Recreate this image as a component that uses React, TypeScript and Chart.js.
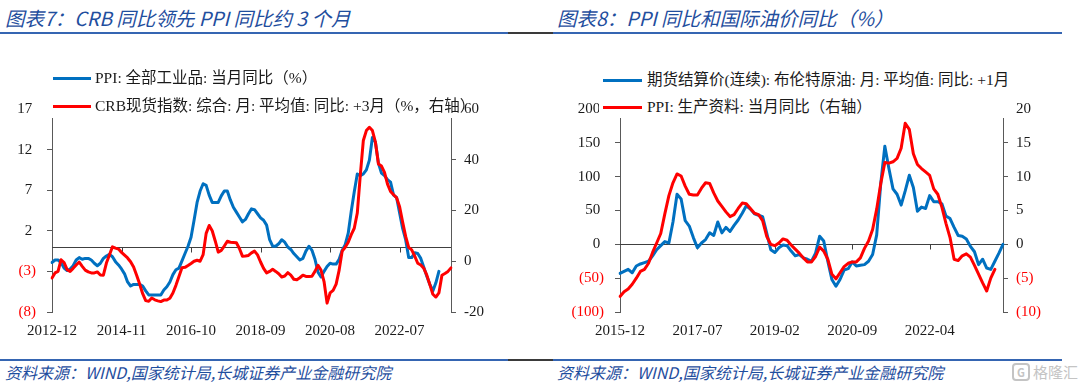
import React, { useEffect, useRef } from "react";
import { Chart, registerables } from "chart.js";

Chart.register(...registerables);

function monthLabels(start: string, count: number): string[] {
  const [y0, m0] = start.split("-").map(Number);
  const out: string[] = [];
  for (let k = 0; k < count; k++) {
    const t = m0 - 1 + k;
    const y = y0 + Math.floor(t / 12);
    const m = (t % 12) + 1;
    out.push(`${y}-${String(m).padStart(2, "0")}`);
  }
  return out;
}

// ---------- Left panel (图表7) ----------
const LEFT_MONTHS = monthLabels("2012-12", 133);
const LEFT_X_TICK_LABELS = ["2012-12", "2014-11", "2016-10", "2018-09", "2020-08", "2022-07"];
const PPI_ALL = [
  -1.9,
  -1.6, -1.6, -1.9, -2.6, -2.9, -2.7, -2.3, -1.6, -1.3, -1.5, -1.4, -1.4,
  -1.6, -2.0, -2.3, -2.0, -1.4, -1.1, -0.9, -1.2, -1.8, -2.2, -2.7, -3.3,
  -4.3, -4.8, -4.6, -4.6, -4.6, -4.8, -5.4, -5.9, -5.9, -5.9, -5.9, -5.9,
  -5.3, -4.9, -4.3, -3.4, -2.8, -2.6, -1.7, -0.8, 0.1, 1.2, 3.3, 5.5,
  6.9, 7.8, 7.6, 6.4, 5.5, 5.5, 5.5, 6.3, 6.9, 6.9, 5.8, 4.9,
  4.3, 3.7, 3.1, 3.4, 4.1, 4.7, 4.6, 4.1, 3.6, 3.3, 2.7, 0.9,
  0.1, 0.1, 0.4, 0.9, 0.6, 0.0, -0.3, -0.8, -1.2, -1.6, -1.4, -0.5,
  0.1, -0.4, -1.5, -3.1, -3.7, -3.0, -2.4, -2.0, -2.1, -2.1, -1.5, -0.4,
  0.3, 1.7, 4.4, 6.8, 9.0, 8.8, 9.0, 9.5, 10.7, 13.5, 12.9, 10.3,
  9.1, 8.8, 8.3, 8.0, 6.4, 6.1, 4.2, 2.3, 0.9, -1.3, -1.3, -0.7,
  -0.8, -1.4, -2.5, -3.6, -4.6, -5.4, -4.4, -3.0,
];
const CRB_YOY_LEAD3 = [
  -6.6, -4.6, -4.0, 0.6, -0.5, -3.3, -4.0, -2.8, -1.5, -0.3,
  -2.0, -3.5, -4.2, -4.6, -4.6, -4.2, -5.4, -5.5, -0.7, 2.5,
  5.7, 5.2, 4.8, 3.5, 2.4, 1.3, -0.2, -2.3, -5.5, -9.0,
  -12.8, -15.5, -15.8, -14.5, -15.2, -15.6, -15.9, -15.3, -15.3, -14.6,
  -12.5, -9.5, -6.0, -2.6, -2.4, -1.7, -0.9, 0.0, 0.4, 0.0,
  2.6, 11.0, 14.1, 12.0, 8.0, 3.6, 4.3, 6.0, 7.9, 7.5,
  7.4, 7.3, 5.0, 2.0, 2.1, 2.3, 3.3, 4.0, 2.5, -0.3,
  -2.8, -4.6, -4.0, -3.2, -4.0, -4.9, -6.2, -5.8, -4.5, -5.5,
  -7.1, -7.3, -6.5, -5.5, -6.0, -6.0, -5.9, -4.0, -1.6, -3.5,
  -8.0, -16.5, -12.5, -11.5, -9.0, -3.5, 4.0, 5.5, 7.5, 10.5,
  13.0, 19.0, 34.0, 47.6, 51.5, 52.8, 51.5, 46.9, 38.3, 37.5,
  35.0, 30.4, 27.5, 26.2, 25.0, 21.5, 15.5, 9.8, 5.5, 4.5,
  2.0, -0.8, -1.5, -2.8, -5.5, -9.2, -13.0, -14.1, -12.5, -5.5,
  -4.8, -4.0, -2.6,
];
const LEFT_Y_TICKS = [-8, -3, 2, 7, 12, 17];
const LEFT_Y1_TICKS = [-20, 0, 20, 40, 60];

// ---------- Right panel (图表8) ----------
const RIGHT_MONTHS = monthLabels("2015-12", 95);
const RIGHT_X_TICK_LABELS = ["2015-12", "2017-07", "2019-02", "2020-09", "2022-04"];
const BRENT_YOY_LEAD1 = [
  -43, -40, -37, -42, -32, -29, -27, -25, -17, -8,
  -2, 4, 2, 33, 74, 67, 35, 27, 10, -5,
  2, 7, 17, 13, 33, 17, 25, 19, 28, 36,
  46, 57, 52, 45, 43, 41, 17, -8, -12, -5,
  -1, -2, -10, -17, -15, -20, -22, -25, -13, 12,
  5, -25, -52, -62, -52, -38, -36, -26, -32, -31,
  -30, -25, -15, 14, 90, 145, 112, 82, 74, 58,
  79, 102, 84, 49, 55, 53, 72, 63, 63, 60,
  42, 38, 25, 13, 12, 8, -3, -11, -30, -22,
  -35, -37, -25, -13, 0,
];
const PPI_PRODUCER = [
  -7.7, -7.0, -6.6, -5.9, -5.0, -4.0, -3.7, -2.8, -1.2, 0.2,
  1.6, 4.5, 7.2, 9.1, 10.4, 10.1, 8.6, 7.4, 7.3, 7.3,
  8.3, 9.1, 9.0, 7.6, 6.4, 5.6, 4.8, 4.1, 4.4, 5.3,
  6.1, 6.0, 5.3, 4.6, 4.4, 3.5, 1.2, 0.0, -0.2, 0.2,
  0.8, 0.6, -0.1, -0.7, -1.3, -2.0, -2.6, -2.6, -1.8, -0.4,
  -1.0, -2.2, -4.4, -5.1, -4.2, -3.3, -2.8, -2.6, -2.6, -2.0,
  -0.6, 0.5, 2.2, 5.2, 9.0, 12.1, 12.0, 12.2, 12.7, 14.2,
  17.9, 17.0, 13.4, 11.8, 11.2, 10.7, 10.2, 8.2, 7.4, 5.5,
  3.1, 1.0, -2.2, -2.4, -1.7, -1.4, -1.9, -3.1, -4.4, -5.7,
  -6.9, -5.0, -3.7,
];
const RIGHT_Y_TICKS = [-100, -50, 0, 50, 100, 150, 200];
const RIGHT_Y1_TICKS = [-10, -5, 0, 5, 10, 15, 20];

const BLUE = "#0070C0";
const RED = "#FF0000";
const TITLE_BLUE = "#1F4E9E";
const RULE_BLUE = "#3565B2";
const AXIS_GREY = "#595959";
const TEXT_DARK = "#1a1a1a";
const SERIF = '"Liberation Serif", "Times New Roman", "Noto Sans CJK SC", serif';
const CJK_SANS = '"Noto Sans CJK SC", "Noto Sans", sans-serif';

type Fmt = (v: number) => string;
const parenLeft: Fmt = (v) => (v < 0 ? `(${Math.abs(v)})` : `${v} `);
const parenRight: Fmt = (v) => (v < 0 ? `(${Math.abs(v)})` : `${v}`);
const plain: Fmt = (v) => `${v}`;

interface PanelProps {
  left: number;
  labels: string[];
  xTickLabels: string[];
  blue: number[];
  red: number[];
  yTicks: number[];
  y1Ticks: number[];
  yFmt: Fmt;
  y1Fmt: Fmt;
  yNegRed: boolean;
  y1NegRed: boolean;
  leftW: number;
  rightW: number;
}

function Panel(p: PanelProps) {
  const ref = useRef<HTMLCanvasElement>(null);
  useEffect(() => {
    const canvas = ref.current;
    if (!canvas) return;
    const font = { family: SERIF, size: 15, lineHeight: 1.2 };
    const zeroLine = {
      id: "zeroLine",
      beforeDatasetsDraw(chart: any) {
        const { ctx, chartArea, scales } = chart;
        const y = Math.round(scales.y.getPixelForValue(0)) + 0.5;
        ctx.save();
        ctx.strokeStyle = "#404040";
        ctx.lineWidth = 1;
        ctx.beginPath();
        ctx.moveTo(chartArea.left, y);
        ctx.lineTo(chartArea.right, y);
        p.labels.forEach((l, i) => {
          if (i > 0 && p.xTickLabels.includes(l)) {
            const x = Math.round(scales.x.getPixelForValue(i)) + 0.5;
            ctx.moveTo(x, y);
            ctx.lineTo(x, y + 5);
          }
        });
        ctx.stroke();
        ctx.restore();
      },
    };
    const fitY = (w: number) => (s: any) => {
      s.width = w;
      s.paddingTop = 0;
      s.paddingBottom = 0;
    };
    const chart = new Chart(canvas, {
      type: "line",
      data: {
        labels: p.labels,
        datasets: [
          { data: p.red, yAxisID: "y1", borderColor: RED, backgroundColor: RED, borderWidth: 3, order: 0 },
          { data: p.blue, yAxisID: "y", borderColor: BLUE, backgroundColor: BLUE, borderWidth: 3, order: 1 },
        ],
      },
      options: {
        animation: false,
        responsive: false,
        devicePixelRatio: 1,
        layout: { padding: { top: 9, left: 0, right: 0, bottom: 0 } },
        plugins: { legend: { display: false }, tooltip: { enabled: false } },
        elements: {
          point: { radius: 0 },
          line: { tension: 0, borderJoinStyle: "round", borderCapStyle: "round" },
        },
        scales: {
          x: {
            type: "category",
            grid: { display: false, drawTicks: false },
            border: { display: false },
            ticks: {
              autoSkip: false,
              maxRotation: 0,
              minRotation: 0,
              padding: 10,
              font,
              color: TEXT_DARK,
              callback: (_v: any, i: number) => (p.xTickLabels.includes(p.labels[i]) ? p.labels[i] : ""),
            },
            afterFit: (s: any) => {
              s.height = 33;
            },
          },
          y: {
            position: "left",
            min: p.yTicks[0],
            max: p.yTicks[p.yTicks.length - 1],
            grid: { drawOnChartArea: false, drawTicks: true, tickLength: 5, color: AXIS_GREY },
            border: { display: true, color: AXIS_GREY, width: 1 },
            ticks: {
              font,
              padding: 11,
              color: (c: any) => (p.yNegRed && c.tick && c.tick.value < 0 ? RED : TEXT_DARK),
              callback: (v: any) => p.yFmt(Number(v)),
            },
            afterBuildTicks: (s: any) => {
              s.ticks = p.yTicks.map((v) => ({ value: v }));
            },
            afterFit: fitY(p.leftW),
          },
          y1: {
            position: "right",
            min: p.y1Ticks[0],
            max: p.y1Ticks[p.y1Ticks.length - 1],
            grid: { drawOnChartArea: false, drawTicks: true, tickLength: 5, color: AXIS_GREY },
            border: { display: true, color: AXIS_GREY, width: 1 },
            ticks: {
              font,
              padding: 8,
              color: (c: any) => (p.y1NegRed && c.tick && c.tick.value < 0 ? RED : TEXT_DARK),
              callback: (v: any) => p.y1Fmt(Number(v)),
            },
            afterBuildTicks: (s: any) => {
              s.ticks = p.y1Ticks.map((v) => ({ value: v }));
            },
            afterFit: fitY(p.rightW),
          },
        },
      } as any,
      plugins: [zeroLine],
    });
    return () => chart.destroy();
  }, []);
  return (
    <canvas
      ref={ref}
      width={540}
      height={245}
      style={{ position: "absolute", left: p.left, top: 100, width: 540, height: 245 }}
    />
  );
}

interface LegendRow {
  color: string;
  text: string;
  y: number;
}

function Legend(props: { boxL: number; boxR: number; lineX: number; lineW: number; textX: number; rows: LegendRow[] }) {
  return (
    <>
      <div
        style={{
          position: "absolute",
          left: props.boxL,
          top: 62,
          width: props.boxR - props.boxL,
          height: 56,
          background: "#fff",
        }}
      />
      {props.rows.map((r, i) => (
        <React.Fragment key={i}>
          <div
            style={{
              position: "absolute",
              left: props.lineX,
              top: r.y - 1.5,
              width: props.lineW,
              height: 3,
              background: r.color,
            }}
          />
          <div
            style={{
              position: "absolute",
              left: props.textX,
              top: r.y - 10,
              height: 20,
              lineHeight: "20px",
              fontFamily: SERIF,
              fontSize: 15.5,
              color: TEXT_DARK,
              whiteSpace: "nowrap",
            }}
          >
            {r.text}
          </div>
        </React.Fragment>
      ))}
    </>
  );
}

function Rule({ y }: { y: number }) {
  return (
    <>
      <div style={{ position: "absolute", left: 0, top: y, width: 508, height: 2, background: RULE_BLUE }} />
      <div style={{ position: "absolute", left: 508, top: y, width: 45, height: 2, background: "#3a3a3a" }} />
      <div style={{ position: "absolute", left: 553, top: y, width: 509, height: 2, background: RULE_BLUE }} />
    </>
  );
}

const titleStyle: React.CSSProperties = {
  position: "absolute",
  top: 5,
  fontFamily: CJK_SANS,
  fontStyle: "italic",
  fontSize: 19.5,
  lineHeight: "26px",
  color: TITLE_BLUE,
  whiteSpace: "nowrap",
};

const footStyle: React.CSSProperties = {
  position: "absolute",
  top: 362,
  fontFamily: CJK_SANS,
  fontStyle: "italic",
  fontSize: 16,
  lineHeight: "20px",
  color: TITLE_BLUE,
  whiteSpace: "nowrap",
};

export default function App() {
  return (
    <div
      style={{
        position: "absolute",
        left: 0,
        top: 0,
        width: 1080,
        height: 385,
        overflow: "hidden",
        background: "#fff",
      }}
    >
      <div style={{ ...titleStyle, left: 5 }}>图表7：CRB 同比领先 PPI 同比约 3 个月</div>
      <div style={{ ...titleStyle, left: 557 }}>图表8：PPI 同比和国际油价同比（%）</div>
      <Rule y={32} />

      <Panel
        left={0}
        labels={LEFT_MONTHS}
        xTickLabels={LEFT_X_TICK_LABELS}
        blue={PPI_ALL}
        red={CRB_YOY_LEAD3}
        yTicks={LEFT_Y_TICKS}
        y1Ticks={LEFT_Y1_TICKS}
        yFmt={parenLeft}
        y1Fmt={plain}
        yNegRed={true}
        y1NegRed={false}
        leftW={52}
        rightW={89}
      />
      <Legend
        boxL={47}
        boxR={462}
        lineX={53}
        lineW={38}
        textX={95}
        rows={[
          { color: BLUE, text: "PPI: 全部工业品: 当月同比（%）", y: 78 },
          { color: RED, text: "CRB现货指数: 综合: 月: 平均值: 同比: +3月（%，右轴）", y: 106 },
        ]}
      />

      <Panel
        left={540}
        labels={RIGHT_MONTHS}
        xTickLabels={RIGHT_X_TICK_LABELS}
        blue={BRENT_YOY_LEAD1}
        red={PPI_PRODUCER}
        yTicks={RIGHT_Y_TICKS}
        y1Ticks={RIGHT_Y1_TICKS}
        yFmt={parenLeft}
        y1Fmt={parenRight}
        yNegRed={true}
        y1NegRed={true}
        leftW={80}
        rightW={77}
      />
      <Legend
        boxL={599}
        boxR={1015}
        lineX={603}
        lineW={39}
        textX={647}
        rows={[
          { color: BLUE, text: "期货结算价(连续): 布伦特原油: 月: 平均值: 同比: +1月", y: 80 },
          { color: RED, text: "PPI: 生产资料: 当月同比（右轴）", y: 107 },
        ]}
      />

      <Rule y={359} />
      <div style={{ ...footStyle, left: 5 }}>资料来源：WIND,国家统计局,长城证券产业金融研究院</div>
      <div style={{ ...footStyle, left: 557 }}>资料来源：WIND,国家统计局,长城证券产业金融研究院</div>
      <div
        style={{
          position: "absolute",
          left: 1012,
          top: 363,
          display: "flex",
          alignItems: "center",
          color: "#c4c4c4",
          fontFamily: CJK_SANS,
          fontSize: 15,
          lineHeight: "18px",
          whiteSpace: "nowrap",
        }}
      >
        <span
          style={{
            display: "inline-block",
            width: 14,
            height: 14,
            border: "2px solid #c4c4c4",
            borderRadius: 4,
            fontSize: 11,
            lineHeight: "14px",
            textAlign: "center",
            marginRight: 3,
            fontWeight: 700,
          }}
        >
          G
        </span>
        格隆汇
      </div>
    </div>
  );
}
